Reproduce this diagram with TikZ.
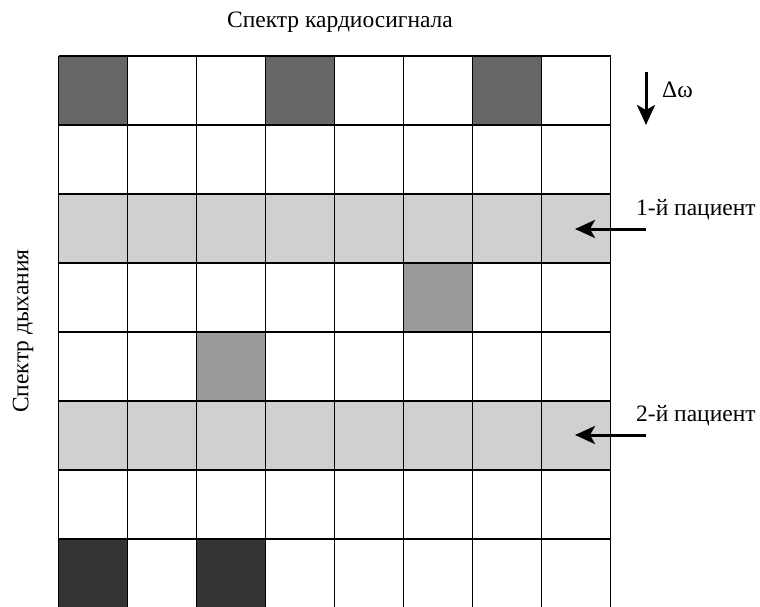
\documentclass[tikz,border=0pt]{standalone}
\usepackage{fontspec}
\setmainfont{Liberation Serif}
\usetikzlibrary{arrows.meta}
\definecolor{cellDark}{HTML}{666666}
\definecolor{cellDarker}{HTML}{333333}
\definecolor{cellMid}{HTML}{999999}
\definecolor{rowLight}{HTML}{D0D0D0}
\tikzset{
  gridline/.style={draw=black,line width=1.4pt},
  caption/.style={font=\fontsize{23.5}{27}\selectfont,inner sep=0pt},
  markarrow/.style={draw=black,line width=3pt,-{Stealth[length=20pt,width=18pt,inset=5pt]}}}
\begin{document}
\begin{tikzpicture}[x=1pt,y=-1pt]
\useasboundingbox (0,0) rectangle (760,607);
% cell size and origin of the 8x8 grid
\def\cw{69}
\def\gx{58.5}
\def\gy{56}
% highlighted rows
\foreach \r in {2,5}{
  \fill[rowLight] (\gx,{\gy+\r*\cw}) rectangle ++({8*\cw},\cw);}
% shaded cells: column, row, colour
\foreach \c/\r/\col in {0/0/cellDark,3/0/cellDark,6/0/cellDark,
  5/3/cellMid,2/4/cellMid,0/7/cellDarker,2/7/cellDarker}{
  \fill[fill=\col] ({\gx+\c*\cw},{\gy+\r*\cw}) rectangle ++(\cw,\cw);}
% grid lines
\foreach \i in {0,...,8}{
  \draw[gridline] ({\gx+\i*\cw},\gy) -- ++(0,{8*\cw});
  \draw[gridline] (\gx,{\gy+\i*\cw}) -- ++({8*\cw},0);}
% axis captions
\node[caption] (top) at (340,22) {Спектр кардиосигнала};
\node[caption,rotate=90] (side) at (23,331) {Спектр дыхания};
% step arrow
\coordinate (dwA) at (646,72);
\coordinate (dwB) at (646,125);
\draw[markarrow] (dwA) -- (dwB);
\node[caption,anchor=west] (dw) at (662,90) {Δω};
% patient markers
\node[caption,anchor=west] (p1) at (636,210) {1-й пациент};
\coordinate (p1s) at (646,229);
\coordinate (p1e) at (575,229);
\draw[markarrow] (p1s) -- (p1e);
\node[caption,anchor=west] (p2) at (636,416) {2-й пациент};
\coordinate (p2s) at (646,435);
\coordinate (p2e) at (575,435);
\draw[markarrow] (p2s) -- (p2e);
\end{tikzpicture}
\end{document}
